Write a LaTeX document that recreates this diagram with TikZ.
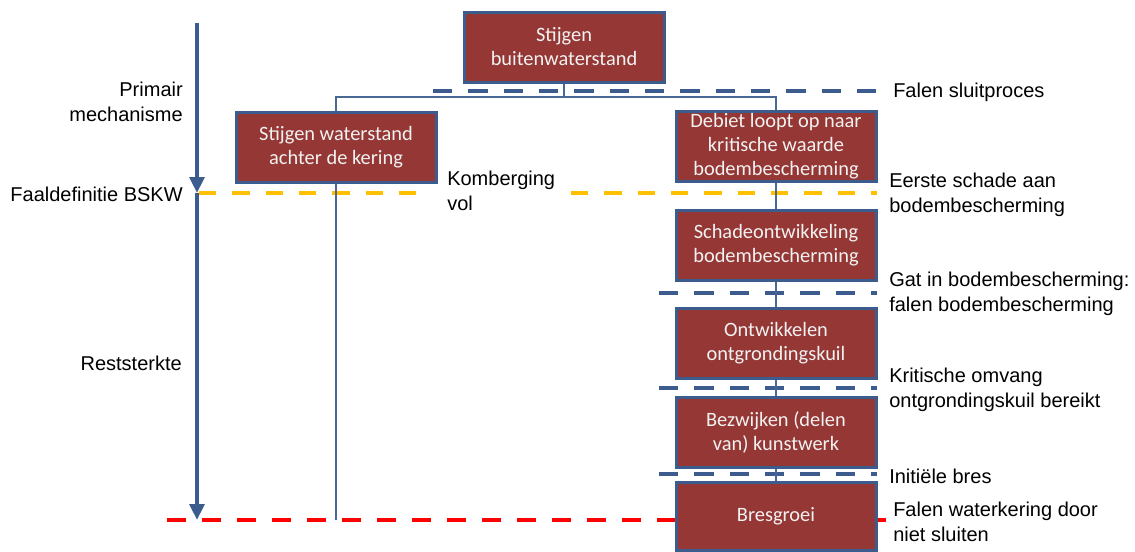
\documentclass[tikz,border=0pt]{standalone}
\usepackage{fontspec}
\setmainfont{Liberation Sans}
\newfontfamily\boxfont{Carlito}
\usetikzlibrary{arrows.meta,calc}
\definecolor{kblue}{RGB}{59,92,140}
\definecolor{kline}{RGB}{72,104,150}
\definecolor{kred}{RGB}{149,55,53}
\definecolor{kyellow}{RGB}{255,192,0}
\definecolor{kwhite}{RGB}{242,242,242}
\begin{document}
\begin{tikzpicture}[x=0.75pt,y=-0.75pt,
  procbox/.style={draw=kblue, line width=2.25pt, fill=kred, text=kwhite,
    font=\boxfont\fontsize{15.3}{18}\selectfont, align=center,
    minimum width=150pt, minimum height=52.5pt, inner sep=0pt},
  lbl/.style={font=\fontsize{15}{18.5}\selectfont, inner sep=0pt},
  conn/.style={draw=kline, line width=2.2pt},
  blueline/.style={draw=kblue, line width=3.2pt, dash pattern=on 14.5pt off 12pt},
  yellowline/.style={draw=kyellow, line width=3.2pt, dash pattern=on 13pt off 12pt},
  redline/.style={draw=red, line width=3.2pt, dash pattern=on 14.25pt off 12pt},
  bigarrow/.style={draw=kblue, line width=3.4pt, -{Triangle[width=11pt,length=12pt]}}]
\useasboundingbox (0,0) rectangle (1135,551);

% coordinates for dashed level lines
\coordinate (s1a) at (433,91);  \coordinate (s1b) at (877,91);
\coordinate (y1a) at (199,193); \coordinate (y1b) at (429,193);
\coordinate (y2a) at (571,193); \coordinate (y2b) at (877,193);
\coordinate (g1a) at (659,293); \coordinate (g1b) at (877,293);
\coordinate (k1a) at (659,388); \coordinate (k1b) at (877,388);
\coordinate (i1a) at (659,474); \coordinate (i1b) at (877,474);
\coordinate (r1a) at (167,520); \coordinate (r1b) at (893,520);

\draw[blueline] (s1a) -- (s1b);
\draw[yellowline] (y1a) -- (y1b);
\draw[yellowline] (y2a) -- (y2b);
\draw[blueline] (g1a) -- (g1b);
\draw[blueline] (k1a) -- (k1b);
\draw[blueline] (i1a) -- (i1b);
\draw[redline] (r1a) -- (r1b);

% big time arrow
\coordinate (ta) at (197,23);
\coordinate (tb) at (197,193);
\coordinate (tc) at (197,520);
\draw[bigarrow] (ta) -- (tb);
\draw[bigarrow] (tb) -- (tc);

% boxes
\node[procbox] (b1) at (564,47) {Stijgen\\buitenwaterstand};
\node[procbox] (b2) at (336,147) {Stijgen waterstand\\achter de kering};
\node[procbox] (b3) at (776,146) {Debiet loopt op naar\\kritische waarde\\bodembescherming};
\node[procbox] (b4) at (776,245) {Schadeontwikkeling\\bodembescherming};
\node[procbox] (b5) at (776,343.5) {Ontwikkelen\\ontgrondingskuil};
\node[procbox] (b6) at (776,432.5) {Bezwijken (delen\\van) kunstwerk};
\node[procbox, minimum height=51pt] (b7) at (776,516) {Bresgroei};

% connectors
\coordinate (split) at (564,97);
\coordinate (b2end) at (336,520);
\draw[conn] (b1.south) -- (split);
\draw[conn] (b2.north) |- (split) -| (b3.north);
\draw[conn] (b2.south) -- (b2end);
\draw[conn] (b3.south) -- (b4.north);
\draw[conn] (b4.south) -- (b5.north);
\draw[conn] (b5.south) -- (b6.north);
\draw[conn] (b6.south) -- (b7.north);

% left labels
\node[lbl, anchor=east, align=right] (lprim) at (183,102) {Primair\\mechanisme};
\node[lbl, anchor=east] (lfaal) at (183,194) {Faaldefinitie BSKW};
\node[lbl, anchor=east] (lrest) at (182,363) {Reststerkte};

% middle label
\node[lbl, anchor=west, align=left] (lkom) at (447,191) {Komberging\\vol};

% right labels
\node[lbl, anchor=west] (lsluit) at (893,92) {Falen sluitproces};
\node[lbl, anchor=west, align=left] (leerste) at (889,195) {Eerste schade aan\\bodembescherming};
\node[lbl, anchor=west, align=left] (lgat) at (889,294) {Gat in bodembescherming:\\falen bodembescherming};
\node[lbl, anchor=west, align=left] (lkrit) at (889,390) {Kritische omvang\\ontgrondingskuil bereikt};
\node[lbl, anchor=west] (linit) at (889,476) {Initiële bres};
\node[lbl, anchor=west, align=left] (lfalen) at (893,522) {Falen waterkering door\\niet sluiten};
\end{tikzpicture}
\end{document}
